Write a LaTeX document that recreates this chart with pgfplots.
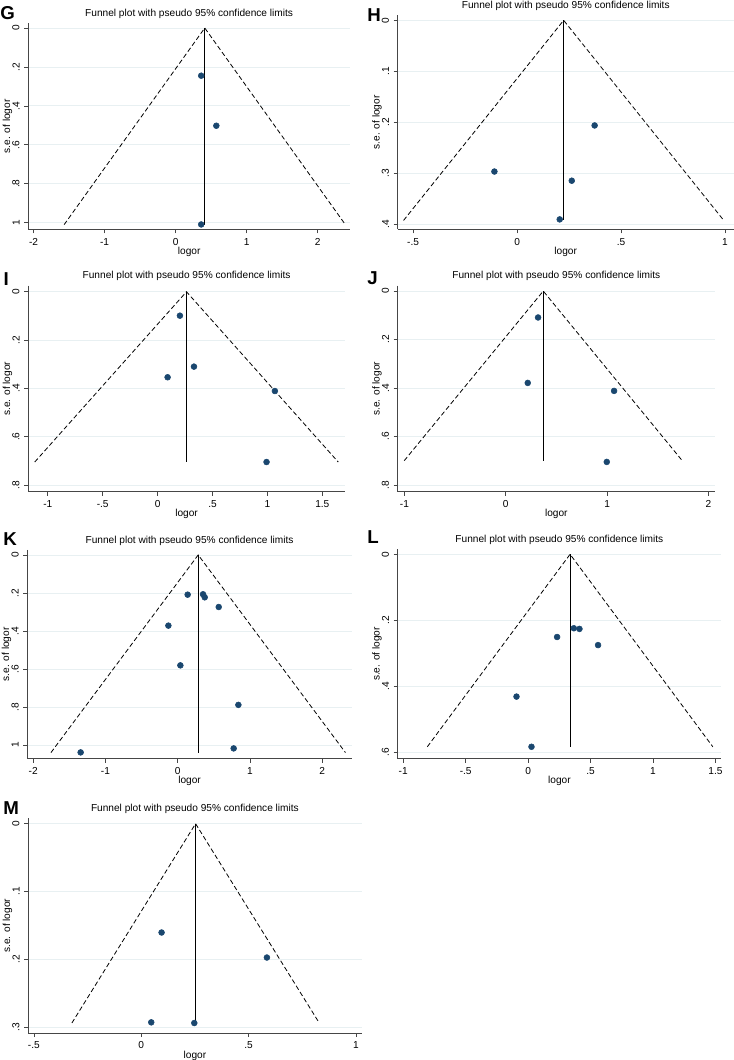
\documentclass[border=0pt]{standalone}
\usepackage{pgfplots}
\pgfplotsset{compat=1.18}
\usepackage{fontspec}
\setmainfont{Liberation Sans}
\definecolor{stnavy}{RGB}{26,71,111}
\definecolor{gridc}{RGB}{232,240,242}
\definecolor{axc}{RGB}{70,70,70}
\pgfplotsset{
  every axis title/.style={at={(axis description cs:0.5,1)}, anchor=base, yshift=5.2pt, inner sep=0pt},
  funnel/.style={
    scale only axis,
    y dir=reverse,
    axis x line*=bottom,
    axis y line*=left,
    axis line style={axc, line width=0.6pt},
    tick style={axc, line width=0.5pt},
    tick align=outside,
    major tick length=3pt,
    ymajorgrids,
    grid style={gridc, line width=0.6pt},
    font=\fontsize{7.6}{9}\selectfont,
    ticklabel style={font=\fontsize{7.6}{9}\selectfont},
    yticklabel style={rotate=90, anchor=south},
    xlabel={logor},
    ylabel={s.e. of logor},
    xlabel style={at={(axis description cs:0.5,0)}, anchor=base, yshift=-18.8pt, inner sep=0pt},
    ylabel style={at={(axis description cs:0,0.5)}, anchor=base, yshift=13.6pt, inner sep=0pt},
    title={Funnel plot with pseudo 95\% confidence limits},
    clip=false,
  },
  pts/.style={only marks, mark=*, mark size=2.2pt, color=stnavy},
  dashl/.style={black, dash pattern=on 3.5pt off 2pt, line width=0.6pt, mark=none},
  vl/.style={black, line width=0.8pt, mark=none},
}
\begin{document}
\begin{tikzpicture}
\path[use as bounding box] (0,0) rectangle (550.5pt,795pt);

% G
\begin{axis}[funnel, at={(21.2pt,777.5pt)}, anchor=north west,
  width=241.3pt, height=154.5pt,
  xmin=-2.075, xmax=2.455, ymin=-0.024, ymax=1.034,
  xtick={-2,-1,0,1,2}, xticklabels={-2,-1,0,1,2},
  ytick={0,0.2,0.4,0.6,0.8,1}, yticklabels={0,.2,.4,.6,.8,1}]
\addplot[dashl] coordinates {(-1.570,1.01) (0.41,0) (2.390,1.01)};
\addplot[vl] coordinates {(0.41,0) (0.41,1.01)};
\addplot[pts] coordinates {(0.36,0.245) (0.573,0.502) (0.36,1.009)};
\end{axis}
\node[anchor=west, font=\fontsize{14}{16}\bfseries\selectfont, inner sep=0pt] at (0pt,785pt) {G};

% H
\begin{axis}[funnel, at={(298.3pt,783.5pt)}, anchor=north west,
  width=252pt, height=160.5pt,
  xmin=-0.574, xmax=1.042, ymin=-0.0098, ymax=0.4105,
  xtick={-0.5,0,0.5,1}, xticklabels={-.5,0,.5,1},
  ytick={0,0.1,0.2,0.3,0.4}, yticklabels={0,.1,.2,.3,.4}]
\addplot[dashl] coordinates {(-0.546,0.393) (0.224,0) (0.994,0.393)};
\addplot[vl] coordinates {(0.224,0) (0.224,0.393)};
\addplot[pts] coordinates {(0.373,0.2065) (-0.109,0.297) (0.263,0.315) (0.205,0.391)};
\end{axis}
\node[anchor=west, font=\fontsize{14}{16}\bfseries\selectfont, inner sep=0pt] at (275.25pt,784pt) {H};

% I
\begin{axis}[funnel, at={(21.2pt,580.7pt)}, anchor=north west,
  width=237.5pt, height=154.5pt,
  xmin=-1.178, xmax=1.706, ymin=-0.025, ymax=0.828,
  xtick={-1,-0.5,0,0.5,1,1.5}, xticklabels={-1,-.5,0,.5,1,1.5},
  ytick={0,0.2,0.4,0.6,0.8}, yticklabels={0,.2,.4,.6,.8}]
\addplot[dashl] coordinates {(-1.119,0.705) (0.263,0) (1.645,0.705)};
\addplot[vl] coordinates {(0.263,0) (0.263,0.705)};
\addplot[pts] coordinates {(0.203,0.099) (0.331,0.310) (0.091,0.354) (1.068,0.411) (0.992,0.705)};
\end{axis}
\node[anchor=west, font=\fontsize{14}{16}\bfseries\selectfont, inner sep=0pt] at (2.5pt,586pt) {I};

% J
\begin{axis}[funnel, at={(298.3pt,580.7pt)}, anchor=north west,
  width=237.8pt, height=154.5pt,
  xmin=-1.066, xmax=2.063, ymin=-0.022, ymax=0.828,
  xtick={-1,0,1,2}, xticklabels={-1,0,1,2},
  ytick={0,0.2,0.4,0.6,0.8}, yticklabels={0,.2,.4,.6,.8}]
\addplot[dashl] coordinates {(-1.002,0.70) (0.37,0) (1.742,0.70)};
\addplot[vl] coordinates {(0.37,0) (0.37,0.70)};
\addplot[pts] coordinates {(0.319,0.109) (0.217,0.379) (1.069,0.412) (0.997,0.705)};
\end{axis}
\node[anchor=west, font=\fontsize{14}{16}\bfseries\selectfont, inner sep=0pt] at (275.25pt,586pt) {J};

% K
\begin{axis}[funnel, at={(20.5pt,382.5pt)}, anchor=north west,
  width=243.3pt, height=156.5pt,
  xmin=-2.081, xmax=2.409, ymin=-0.026, ymax=1.072,
  xtick={-2,-1,0,1,2}, xticklabels={-2,-1,0,1,2},
  ytick={0,0.2,0.4,0.6,0.8,1}, yticklabels={0,.2,.4,.6,.8,1}]
\addplot[dashl] coordinates {(-1.754,1.04) (0.284,0) (2.322,1.04)};
\addplot[vl] coordinates {(0.284,0) (0.284,1.04)};
\addplot[pts] coordinates {(0.138,0.209) (0.351,0.207) (0.374,0.223) (0.568,0.274) (-0.129,0.372) (0.037,0.581) (0.840,0.789) (0.775,1.018) (-1.343,1.039)};
\end{axis}
\node[anchor=west, font=\fontsize{14}{16}\bfseries\selectfont, inner sep=0pt] at (2.3pt,391pt) {K};

% L
\begin{axis}[funnel, at={(298.3pt,383pt)}, anchor=north west,
  width=242.5pt, height=157pt,
  xmin=-1.044, xmax=1.545, ymin=-0.015, ymax=0.619,
  xtick={-1,-0.5,0,0.5,1,1.5}, xticklabels={-1,-.5,0,.5,1,1.5},
  ytick={0,0.2,0.4,0.6}, yticklabels={0,.2,.4,.6}]
\addplot[dashl] coordinates {(-0.807,0.583) (0.336,0) (1.479,0.583)};
\addplot[vl] coordinates {(0.336,0) (0.336,0.583)};
\addplot[pts] coordinates {(0.366,0.224) (0.411,0.226) (0.232,0.2505) (0.560,0.275) (-0.093,0.431) (0.027,0.583)};
\end{axis}
\node[anchor=west, font=\fontsize{14}{16}\bfseries\selectfont, inner sep=0pt] at (275.25pt,392pt) {L};

% M
\begin{axis}[funnel, at={(21.2pt,181.3pt)}, anchor=north west,
  width=250pt, height=161.2pt,
  xmin=-0.526, xmax=1.026, ymin=-0.008, ymax=0.309,
  xtick={-0.5,0,0.5,1}, xticklabels={-.5,0,.5,1},
  ytick={0,0.1,0.2,0.3}, yticklabels={0,.1,.2,.3}]
\addplot[dashl] coordinates {(-0.323,0.294) (0.253,0) (0.829,0.294)};
\addplot[vl] coordinates {(0.253,0) (0.253,0.294)};
\addplot[pts] coordinates {(0.0947,0.1605) (0.585,0.1974) (0.0466,0.293) (0.247,0.294)};
\end{axis}
\node[anchor=west, font=\fontsize{14}{16}\bfseries\selectfont, inner sep=0pt] at (2.3pt,189pt) {M};

\end{tikzpicture}
\end{document}
